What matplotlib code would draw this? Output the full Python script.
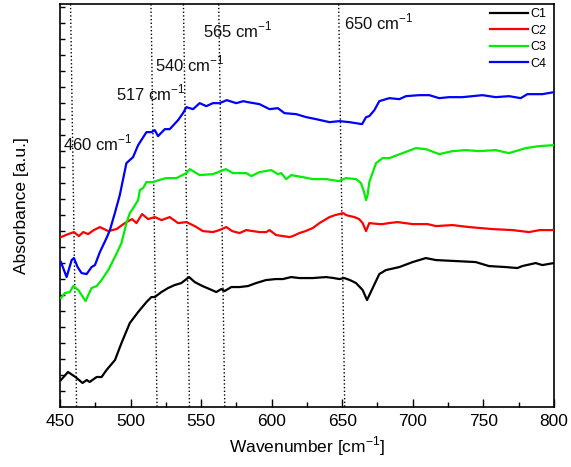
import matplotlib
matplotlib.use("Agg")
import matplotlib.pyplot as plt
import numpy as np

plt.rcParams['font.family'] = ['Liberation Sans', 'DejaVu Sans']
plt.rcParams['mathtext.fontset'] = 'custom'
plt.rcParams['mathtext.rm'] = 'Liberation Sans'

# C1 (black)
c1_x = [450.7, 455.7, 461, 466, 469, 471, 476, 479.5, 483, 489, 493.6, 499.5, 505.4, 511.3,
        514.8, 517.2, 521.9, 526.6, 531.3, 536, 541.5, 545.5, 551, 556, 560.8, 564.3, 566.7,
        571.4, 577.3, 583.2, 589, 596, 603, 608, 613.8, 619.7, 629.1, 638.6, 644, 648, 651.5,
        655.5, 659.8, 664.5, 667.6, 671.6, 676.3, 681, 690.5, 699.9, 709.3, 716.4, 730.5,
        744.6, 754, 765.9, 774.1, 777.6, 787.1, 791.8, 800]
c1_y = [0.27, 0.35, 0.30, 0.24, 0.27, 0.25, 0.30, 0.30, 0.37, 0.47, 0.64, 0.84, 0.95, 1.05,
        1.10, 1.10, 1.15, 1.19, 1.22, 1.24, 1.30, 1.25, 1.21, 1.18, 1.15, 1.18, 1.16,
        1.20, 1.20, 1.21, 1.24, 1.27, 1.28, 1.28, 1.30, 1.29, 1.29, 1.30, 1.29, 1.28, 1.29,
        1.27, 1.24, 1.17, 1.07, 1.19, 1.33, 1.37, 1.40, 1.45, 1.49, 1.47, 1.46,
        1.45, 1.41, 1.40, 1.39, 1.41, 1.44, 1.42, 1.44]

# C2 (red)
c2_x = [450.7, 455.9, 459.9, 463.4, 466.5, 470, 474, 478.3, 484.2, 490.1, 496, 501.1, 504.2,
        508.2, 512.5, 517.2, 522, 527.8, 533.7, 539.6, 545.5, 551.3, 558.4, 563, 567.9, 572,
        577.3, 582, 586.7, 591.4, 596.2, 598.5, 603.2, 608, 612.7, 615, 619.7, 624, 629.1,
        633.9, 641, 645, 648, 650.8, 652.7, 658.6, 662, 664.5, 666.9, 669.2, 676.3, 678.6,
        683, 689.2, 699.9, 710.5, 716.4, 728.2, 740, 756.5, 770.6, 782.4, 790, 800]
c2_y = [1.70, 1.73, 1.75, 1.71, 1.75, 1.73, 1.77, 1.80, 1.76, 1.78, 1.84, 1.88, 1.84,
        1.93, 1.88, 1.90, 1.87, 1.90, 1.84, 1.85, 1.81, 1.76, 1.75, 1.77, 1.80, 1.76,
        1.74, 1.77, 1.76, 1.75, 1.75, 1.77, 1.72, 1.71, 1.70, 1.71, 1.74, 1.76, 1.79,
        1.84, 1.90, 1.92, 1.93, 1.94, 1.92, 1.90, 1.88, 1.84, 1.76, 1.84, 1.83, 1.83,
        1.84, 1.85, 1.83, 1.83, 1.81, 1.82, 1.80, 1.78, 1.77, 1.75, 1.77, 1.77]

# C3 (green)
c3_x = [450.7, 453.5, 457, 459.4, 463, 468.1, 472.4, 476, 479.5, 484.2, 488.9, 493.6, 497.1,
        499.5, 501, 505.4, 506.6, 508.9, 511.3, 516, 520, 525.4, 532.5, 539.6, 542, 549,
        558.4, 567.6, 572.6, 577.3, 582, 585.6, 591.4, 599.7, 604.4, 606.8, 610.3, 613.9,
        622.1, 629.1, 638.6, 647.6, 652.7, 659.8, 663.3, 665.5, 666.9, 668, 669.2, 674,
        678.6, 683.4, 692.8, 702.2, 709.3, 718.7, 728.2, 737.6, 747, 758.8, 768.2, 780,
        789.5, 800]
c3_y = [1.09, 1.14, 1.15, 1.21, 1.17, 1.06, 1.19, 1.21, 1.27, 1.37, 1.50, 1.64, 1.84,
        1.94, 1.97, 2.07, 2.17, 2.19, 2.25, 2.25, 2.27, 2.29, 2.29, 2.34, 2.38, 2.32,
        2.33, 2.38, 2.34, 2.34, 2.34, 2.31, 2.35, 2.37, 2.33, 2.34, 2.28, 2.32,
        2.30, 2.28, 2.28, 2.26, 2.29, 2.28, 2.24, 2.15, 2.07, 2.12, 2.25, 2.44,
        2.49, 2.49, 2.54, 2.59, 2.58, 2.53, 2.56, 2.57, 2.56, 2.57, 2.54, 2.59,
        2.61, 2.62]

# C4 (blue)
c4_x = [450.7, 454.7, 458.3, 459.9, 462.5, 465.3, 468.9, 472.4, 474.8, 478.3, 483, 485.4,
        488.9, 492.4, 497.1, 501.8, 505.4, 511.3, 514.8, 517.2, 519.5, 524.3, 527.8, 533.7,
        537.2, 539.6, 544.3, 549, 553.7, 558.4, 563.2, 568.2, 574.9, 580, 583.2, 591.4,
        598.5, 604.4, 609.1, 617.4, 624.5, 631.5, 641, 648, 655.1, 664.1, 666.9, 669.2,
        672.8, 676.3, 683.4, 690.5, 695.2, 704.6, 711.7, 718.7, 725.8, 735.2, 749.4, 758.8,
        768.2, 776.5, 781.2, 791.8, 800]
c4_y = [1.45, 1.30, 1.47, 1.49, 1.40, 1.34, 1.33, 1.40, 1.42, 1.55, 1.69, 1.77,
        1.94, 2.12, 2.44, 2.50, 2.62, 2.75, 2.75, 2.77, 2.71, 2.78, 2.78, 2.87,
        2.94, 3.00, 2.98, 3.04, 3.01, 3.04, 3.04, 3.07, 3.04, 3.06, 3.05, 3.03,
        2.98, 2.99, 2.94, 2.93, 2.90, 2.88, 2.85, 2.86, 2.85, 2.83, 2.90, 2.91,
        2.97, 3.06, 3.09, 3.08, 3.11, 3.12, 3.12, 3.09, 3.10, 3.10, 3.12, 3.10,
        3.11, 3.09, 3.13, 3.13, 3.15]

series_names = ['C1', 'C2', 'C3', 'C4']
series_colors = ['#000000', '#ff0000', '#00ee00', '#0000ff']

peak_values = [460, 517, 540, 565, 650]
peak_labels = ['460 cm$^{-1}$', '517 cm$^{-1}$', '540 cm$^{-1}$', '565 cm$^{-1}$', '650 cm$^{-1}$']
label_pos = [(452, 2.57), (489.6, 3.07), (517.2, 3.36), (551.4, 3.70), (651.5, 3.78)]

fig = plt.figure(figsize=(5.71, 4.67), dpi=100)
ax = fig.add_axes([0.105, 0.1285, 0.865, 0.8625])

y_top = 4.03
for p in peak_values:
    ax.plot([p - 2.5, p + 1.8], [y_top, 0], color='black', linestyle=':', linewidth=1.0, zorder=1)

xs = [c1_x, c2_x, c3_x, c4_x]
ys = [c1_y, c2_y, c3_y, c4_y]
for x, y, name, col in zip(xs, ys, series_names, series_colors):
    ax.plot(x, y, color=col, linewidth=1.6, label=name, zorder=3)

for lab, (lx, ly) in zip(peak_labels, label_pos):
    ax.text(lx, ly, lab, fontsize=12, ha='left', va='baseline', color='#111111')

ax.set_xlim(450, 800)
ax.set_ylim(0, y_top)
ax.set_xticks(np.arange(450, 801, 50))
ax.set_xticks(np.arange(475, 800, 50), minor=True)
ax.set_yticks(np.arange(0.16, y_top, 0.16))
ax.set_yticklabels([])
ax.tick_params(axis='x', which='major', direction='in', length=6, width=1.0, labelsize=12.5, pad=5)
ax.tick_params(axis='x', which='minor', direction='in', length=3.5, width=1.0)
ax.tick_params(axis='y', which='major', direction='in', length=3.5, width=1.0)
for s in ax.spines.values():
    s.set_linewidth(1.2)

ax.set_xlabel('Wavenumber [cm$^{-1}$]', fontsize=12.5, labelpad=4)
ax.set_ylabel('Absorbance [a.u.]', fontsize=12.5, labelpad=19)

ax.legend(loc='upper right', frameon=False, fontsize=9, handlelength=3.0,
          handletextpad=0.2, labelspacing=0.35, borderaxespad=0.1,
          bbox_to_anchor=(0.997, 1.005))

fig.savefig('out.png', dpi=100)
